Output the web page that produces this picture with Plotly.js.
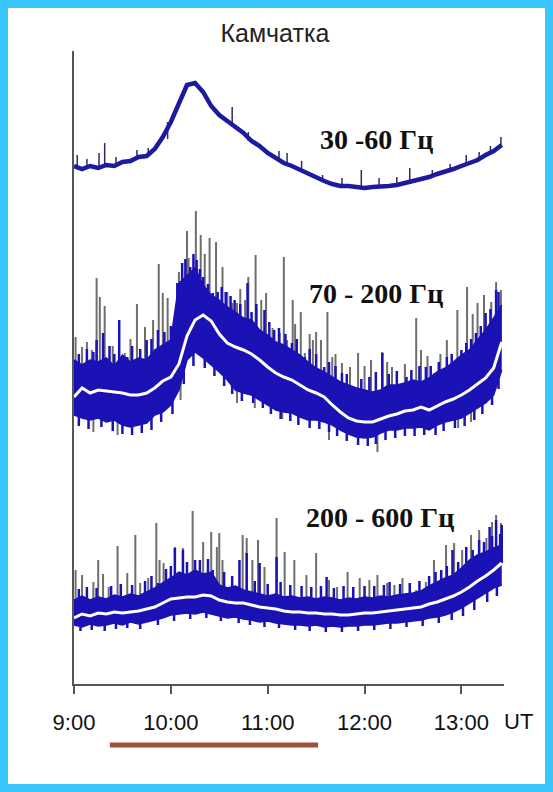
<!DOCTYPE html>
<html><head><meta charset="utf-8">
<script src="https://cdn.plot.ly/plotly-3.0.1.min.js"></script>
<style>
html,body{margin:0;padding:0;width:553px;height:792px;overflow:hidden;background:#38c6fc;}
#chart{position:absolute;left:8px;top:8px;width:537px;height:776px;background:#fff;}
</style></head><body><div id="chart"></div>
<script>
// ---- DATA (relative signal level, arbitrary units; time in minutes after 9:00 UT) ----
const tickVals = [9, 10, 11, 12, 13];
const tickText = ['9:00', '10:00', '11:00', '12:00', '13:00'];
const bandLabels = ['30 -60 Гц', '70 - 200 Гц', '200 - 600 Гц'];
const chartTitle = 'Камчатка';
const periodStart = 9.37, periodEnd = 11.52; // hours UT

const minutes = [0,5,10,15,20,25,30,35,40,45,50,55,60,65,70,75,80,85,90,95,100,105,110,115,120,125,130,135,140,145,150,155,160,165,170,175,180,185,190,195,200,205,210,215,220,225,230,235,240,245,250,255,260,265];

// 30-60 Hz
const b1Level = [518,515,518,516,519,518,522,523,527,528, 535,547,562,581,599,601,592,578,569,563, 557,551,543,538,531,526,521,518,514,510, 506,503,500,498,498,497,496,497,497,498, 499,501,502,505,507,510,512,515,518,521, 524,529,533,539];
const b1SpikeMin = [2,8,15.5,19,26,39,46,58,98,108,115,127,132,141,154,166,178,189,200,208,222,233,243,251,258,264.5];
const b1SpikeTop = [529,525,531,541,527,534,536,545,577,552,540,533,531,523,509,506,514,506,507,516,514,520,529,532,538,547];

// 70-200 Hz
const b2Mean  = [287,296,291,294,293,292,291,289,289,291, 296,303,307,320,348,364,369,363,350,341, 337,334,330,324,317,311,307,304,299,294, 291,287,279,272,266,263,262,262,265,268, 270,273,274,277,274,278,282,285,289,294, 300,306,316,342];
const b2Upper = [324,319,324,322,326,318,329,322,326,324, 334,339,344,401,409,416,399,389,384,377, 372,366,364,354,349,342,339,334,329,322, 316,312,307,302,299,296,294,292,294,299, 299,301,304,302,306,312,316,322,329,334, 344,354,366,379];
const b2Lower = [269,266,264,266,262,264,259,257,259,261, 269,272,279,294,324,332,326,319,312,304, 294,291,289,284,279,274,272,271,267,264, 264,262,259,254,250,247,246,247,251,254, 254,256,256,257,254,259,262,264,266,271, 276,281,289,314];
const b2SpikeMin = [1,5,11,14,16,19,31.5,39,44,49, 52.5,55,58,65,70,71,75.5,78.5,84,88, 92,95,98,101,106,108,112.5,116,119,123, 127.5,130,132,135.5,140.5,143,148,150,153,157, 160,166,171,176,184,191,197,212,215,223, 231,237.5,243.5,250,254,258.5,261.5,264.5, 8,24,35,62,81,103,137,146,162,180,194,205,219,227,247];
const b2SpikeTop = [347,337,334,406,387,378,331,380,357,364, 420,391,386,412,453,426,473,449,446,442, 417,392,381,381,384,407,429,384,391,356, 351,427,344,384,372,331,344,352,344,372, 327,321,317,331,324,332,317,366,334,311, 344,374,397,381,389,382,402,394, 342,338,345,360,430,395,360,350,330,318,322,320,328,330,370];
const b2DipMin = [27,101,129,158,238,12,66,112,188,246];
const b2DipLow = [249,281,265,244,256,252,284,276,232,262];
const b2BlueMin = [14,18,28,33,45,52,64,67,72,76, 80,86,91.5,99.5,107.5,118,124,135,143,155, 166,174,191,206,218,231,243,249,255,261.5, 3,8,12,22,25,36,41,48,56,60, 69,74,78,83,89,94,97,103,110,113, 121,127,131,138,146,150,158,162,169,178, 183,187,195,200,209,214,221,226,234,240, 246,252,258,263];
const b2BlueTop = [344,351,364,327,344,354,401,421,417,424, 407,391,397,384,401,374,354,341,327,317, 311,297,331,307,317,327,341,351,371,394, 330,335,332,338,330,338,335,345,352,358, 425,430,415,400,392,392,388,380,372,380, 362,356,350,345,335,330,322,318,310,305, 307,312,310,313,314,318,318,322,330,334, 345,358,375,392];
const b2DownMin = [3,9,17,24,30,36,42,48,54,61, 68,74,81,87,93,98,104,111,117,122, 128,134,139,146,152,158,163,169,176,182, 187,193,199,205,211,217,224,229,236,242, 248,253,259,263];
const b2DownLow = [258,255,257,253,250,249,251,254,262,270, 300,318,316,308,298,290,283,281,276,270, 265,263,259,256,255,252,248,243,239,238, 240,244,246,248,248,249,249,253,256,258, 264,270,279,295];

// 200-600 Hz
const b3Mean  = [66,70,68,71,70,72,71,72,73,75, 77,81,85,86,87,87,89,88,84,82, 81,81,79,77,76,75,73,72,72,71, 71,70,70,69,69,70,71,71,72,73, 74,75,76,77,80,82,85,88,92,97, 103,108,114,121];
const b3Upper = [84,88,84,87,85,89,87,90,88,92, 96,101,106,112,109,114,110,112,99,96, 98,94,92,90,88,90,87,88,86,87, 85,87,86,84,86,85,87,86,88,87, 89,90,91,93,98,102,106,109,116,124, 129,132,136,139];
const b3Lower = [59,57,60,58,59,61,59,62,60,62, 64,66,69,70,71,70,72,70,68,66, 67,65,64,62,63,61,60,59,59,58, 59,57,58,57,58,58,59,59,60,61, 61,62,63,64,66,67,69,72,76,81, 86,91,96,99];
const b3SpikeMin = [1,5,12,15,18,21.5,27,33,38,41, 46,51,53,55.5,62.5,67.5,73.5,80,85,88.5, 90,92,104.5,107,110.5,114,118,125.5,130.5,136.5, 144,150,158,163,169.5,177,183,188,194,198.5, 203.5,212,218,223,230.5,235.5,240.5,246,251,255.5, 259,261.5,264.5];
const b3SpikeTop = [114,109,102,124,110,97,138,111,149,101, 106,161,124,121,137,136,173,142,152,137, 151,124,149,146,124,144,117,166,132,124, 109,131,104,97,112,106,104,109,101,99, 106,94,102,124,139,141,134,149,154,146, 162,169,161];
const b3BlueMin = [52,62.5,67.5,78,86,102.5,107,115,125.5,156.5, 195.5,227.5,234.5,243,251,257.5,261.5,265, 3,8,14,23,29,36,44,48,57,60, 70,75,83,93,98,112,120,128,134,141, 147,153,161,167,173,180,186,192,202,208, 214,220,224,231,238,247,254,259,264];
const b3BlueTop = [101,136,134,124,114,124,131,121,127,107, 102,114,134,137,144,157,164,159, 95,97,96,98,100,99,103,108,115,118, 122,124,125,112,108,103,100,102,99,98, 97,98,96,98,97,98,98,99,100,101, 103,108,112,118,122,134,142,148,150];
const b3DownMin = [4,11,19,26,33,41,52,62,72,82, 91,102,109,118,127,137,146,156,166,176, 186,196,206,216,226,234,241,248,256,262];
const b3DownLow = [53,54,53,55,56,55,59,63,65,66, 63,61,59,57,56,54,53,52,52,53, 54,55,57,58,61,64,68,74,82,88];

// ---- helpers ----
const toHours = m => 9 + m / 60;
const xs = minutes.map(toHours);
function nearestIdx(m){
  let best = 0;
  minutes.forEach((v, i) => { if (Math.abs(v - m) < Math.abs(minutes[best] - m)) best = i; });
  return best;
}
function spikes(mins, ends, baseSeries){
  const x = [], y = [];
  mins.forEach((m, i) => {
    x.push(toHours(m), toHours(m), null);
    y.push(baseSeries[nearestIdx(m)], ends[i], null);
  });
  return {x, y};
}

const BLUE = '#1a12b4', GRAY = '#6e6e6e';
const traces = [];
function addBand(mean, upper, lower, gMin, gTop, bMin, bTop, dnMin, dnLow, dMin, dLow){
  const g = spikes(gMin, gTop, mean);
  traces.push({x: g.x, y: g.y, mode: 'lines', line: {color: GRAY, width: 2}, hoverinfo: 'skip'});
  if (dMin){
    const d = spikes(dMin, dLow, mean);
    traces.push({x: d.x, y: d.y, mode: 'lines', line: {color: GRAY, width: 2}, hoverinfo: 'skip'});
  }
  traces.push({x: xs, y: lower, mode: 'lines', line: {color: BLUE, width: 1.5}, hoverinfo: 'skip'});
  traces.push({x: xs, y: upper, mode: 'lines', fill: 'tonexty', fillcolor: BLUE, line: {color: BLUE, width: 1.5}, hoverinfo: 'skip'});
  const b = spikes(bMin, bTop, mean);
  traces.push({x: b.x, y: b.y, mode: 'lines', line: {color: BLUE, width: 2.5}, hoverinfo: 'skip'});
  const dn = spikes(dnMin, dnLow, mean);
  traces.push({x: dn.x, y: dn.y, mode: 'lines', line: {color: BLUE, width: 2.5}, hoverinfo: 'skip'});
  traces.push({x: xs, y: mean, mode: 'lines', line: {color: '#ffffff', width: 3}, hoverinfo: 'skip'});
}
addBand(b3Mean, b3Upper, b3Lower, b3SpikeMin, b3SpikeTop, b3BlueMin, b3BlueTop, b3DownMin, b3DownLow);
addBand(b2Mean, b2Upper, b2Lower, b2SpikeMin, b2SpikeTop, b2BlueMin, b2BlueTop, b2DownMin, b2DownLow, b2DipMin, b2DipLow);
const s1 = spikes(b1SpikeMin, b1SpikeTop, b1Level);
traces.push({x: s1.x, y: s1.y, mode: 'lines', line: {color: '#2a2a6a', width: 1.5}, hoverinfo: 'skip'});
traces.push({x: xs, y: b1Level, mode: 'lines', line: {color: '#1c1a9e', width: 4.5}, hoverinfo: 'skip'});

const labelFont = {family: 'Liberation Serif, Times New Roman, serif', size: 28, color: '#111'};
const tickFont = {family: 'Liberation Sans, Arial, sans-serif', size: 22, color: '#111'};
const labelPos = [[12.12, 545], [12.12, 391], [12.155, 167]];

const layout = {
  width: 537, height: 776,
  margin: {l: 66, r: 41, t: 43, b: 100},
  paper_bgcolor: '#ffffff', plot_bgcolor: '#ffffff',
  showlegend: false,
  title: {text: chartTitle, x: 0.497, xanchor: 'center', y: 0.968, yanchor: 'middle',
          font: {family: 'Liberation Sans, Arial, sans-serif', size: 25, color: '#222'}},
  xaxis: {range: [9, 13.44], tickmode: 'array', tickvals: tickVals, ticktext: tickText,
          showgrid: false, zeroline: false, showline: true, linecolor: '#555', linewidth: 2,
          ticks: 'outside', ticklen: 8, tickwidth: 2, tickcolor: '#555', tickfont: tickFont,
          ticklabelstandoff: 10, fixedrange: true},
  yaxis: {range: [0, 633], showgrid: false, zeroline: false, showline: true, linecolor: '#555',
          linewidth: 2, showticklabels: false, ticks: '', fixedrange: true},
  annotations: bandLabels.map((t, i) => ({text: '<b>' + t + '</b>', xref: 'x', yref: 'y',
          x: labelPos[i][0], y: labelPos[i][1], showarrow: false, font: labelFont}))
    .concat([{text: 'UT', xref: 'paper', yref: 'paper', x: 1.0326, y: -0.06, showarrow: false,
              xanchor: 'center', yanchor: 'middle', font: tickFont}]),
  shapes: [{type: 'line', xref: 'x', yref: 'paper', x0: periodStart, x1: periodEnd,
            y0: -0.0964, y1: -0.0964, line: {color: '#9b5238', width: 5}}]
};
Plotly.newPlot('chart', traces, layout, {displayModeBar: false, staticPlot: true});
</script></body></html>
